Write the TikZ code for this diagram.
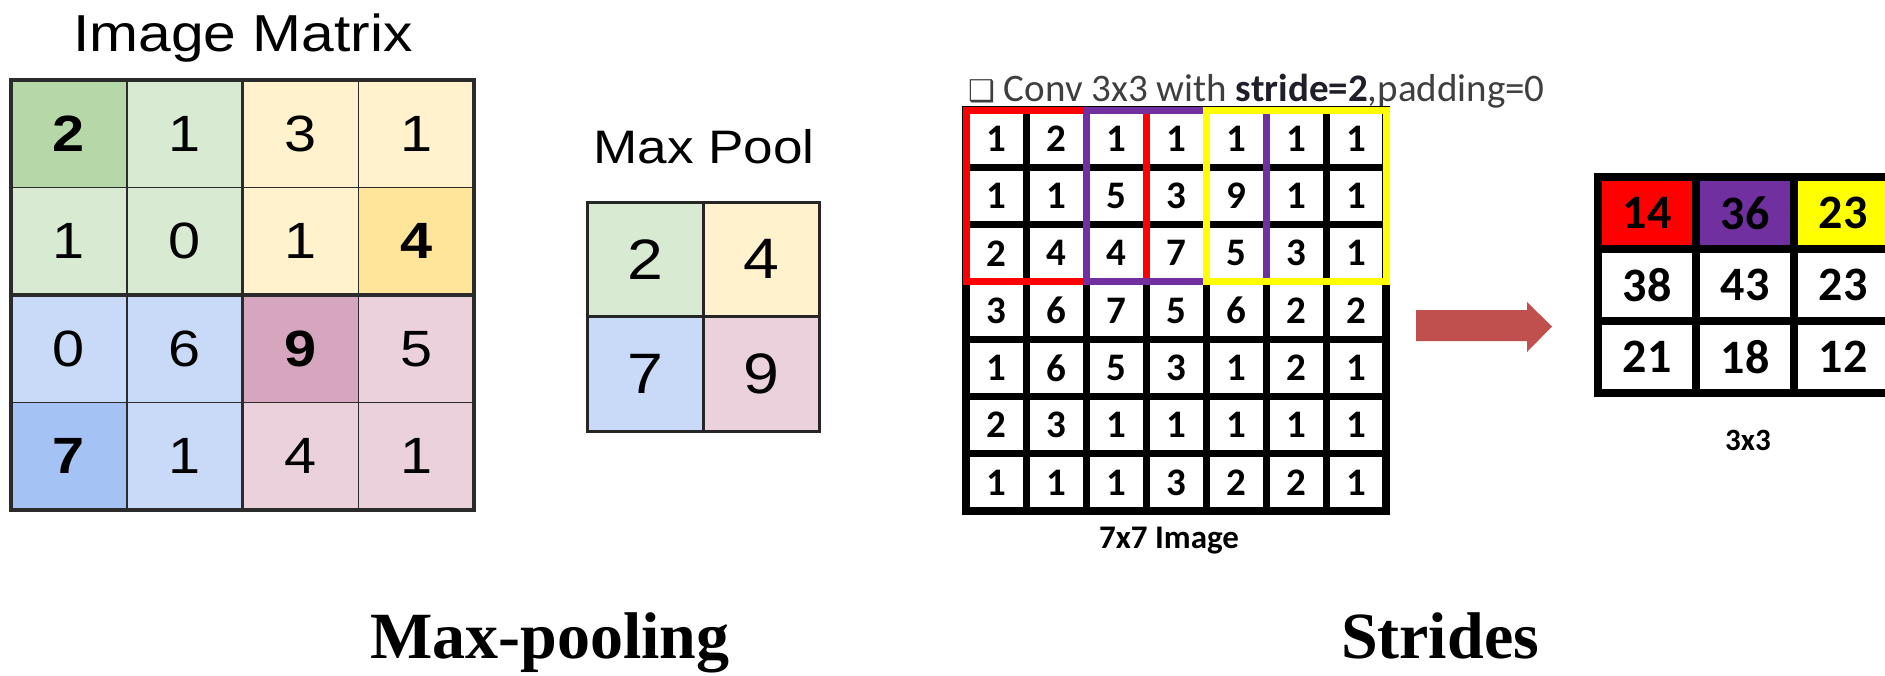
\documentclass[tikz,border=0pt]{standalone}
\usepackage{fontspec}
\newfontfamily\slidefont[FakeStretch=1.13]{Liberation Sans}
\newfontfamily\calfont{Carlito}
\newfontfamily\symfont{DejaVu Sans}
\newfontfamily\titlefont{Liberation Serif}

% pooling palette
\definecolor{gLt}{HTML}{D9EAD3}
\definecolor{gDk}{HTML}{B6D7A8}
\definecolor{yLt}{HTML}{FFF2CC}
\definecolor{yDk}{HTML}{FFE599}
\definecolor{bLt}{HTML}{C9DAF8}
\definecolor{bDk}{HTML}{A4C2F4}
\definecolor{pLt}{HTML}{EAD1DC}
\definecolor{pDk}{HTML}{D5A6BD}
\definecolor{gridgray}{HTML}{2B2B2B}
% stride palette
\definecolor{arrowred}{HTML}{C0504D}
\definecolor{kred}{HTML}{FF0000}
\definecolor{kpurple}{HTML}{7030A0}
\definecolor{kyellow}{HTML}{FFFF00}
\definecolor{captiongray}{HTML}{3F3F3F}
\definecolor{captiondark}{HTML}{1F1F2A}

\begin{document}
\begin{tikzpicture}[x=1pt,y=-1pt,
  lcell/.style={draw=gridgray, line width=1.5pt, minimum width=115.75pt,
    minimum height=107.5pt, inner sep=0pt, outer sep=0pt},
  pcell/.style={draw=black!85, line width=3pt, minimum width=116pt,
    minimum height=114.5pt, inner sep=0pt, outer sep=0pt,
    font=\slidefont\fontsize{57}{57}\selectfont},
  digitn/.style={font=\slidefont\fontsize{51}{51}\selectfont},
  digitb/.style={font=\slidefont\bfseries\fontsize{51}{51}\selectfont},
  thickgrid/.style={draw=gridgray, line width=3.5pt},
  heading/.style={font=\slidefont\fontsize{52}{52}\selectfont, anchor=base},
  scell/.style={draw=black, line width=7pt, minimum width=60pt,
    minimum height=57.3pt, inner sep=0pt, outer sep=0pt,
    font=\calfont\bfseries\fontsize{39}{39}\selectfont},
  ocell/.style={draw=black, line width=8pt, minimum width=98pt,
    minimum height=72pt, inner sep=0pt, outer sep=0pt,
    font=\calfont\bfseries\fontsize{48}{48}\selectfont},
  window/.style={line width=7pt},
  smallcap/.style={font=\calfont\bfseries\fontsize{31}{31}\selectfont, anchor=base},
  bigtitle/.style={font=\titlefont\bfseries\fontsize{66}{66}\selectfont, anchor=base}]

\useasboundingbox[fill=white] (0,0) rectangle (1885,675);

% ---------- max pooling: 4x4 input ----------
\node[heading] (imgtitle) at (243,51) {Image Matrix};
\foreach \v/\f/\w [count=\i from 0] in {
    2/gDk/b,1/gLt/n,3/yLt/n,1/yLt/n,
    1/gLt/n,0/gLt/n,1/yLt/n,4/yDk/b,
    0/bLt/n,6/bLt/n,9/pDk/b,5/pLt/n,
    7/bDk/b,1/bLt/n,4/pLt/n,1/pLt/n}{
  \pgfmathtruncatemacro\r{(\i+0.5)/4}
  \pgfmathtruncatemacro\c{mod(\i,4)}
  \node[lcell, fill=\f, digit\w] (L\r\c)
    at ({11+115.75*(\c+0.5)},{80+107.5*(\r+0.5)}) {\v};
}
\draw[thickgrid] (L00.north west) rectangle (L33.south east);
\draw[thickgrid] (L01.north east) -- (L31.south east);
\draw[thickgrid] (L10.south west) -- (L13.south east);

% ---------- max pooling: 2x2 output ----------
\node[heading, font=\slidefont\fontsize{47}{47}\selectfont] (pooltitle) at (704,163) {Max Pool};
\node[pcell, fill=gLt] (P00) at (645,259.25) {2};
\node[pcell, fill=yLt] (P01) at (761,259.25) {4};
\node[pcell, fill=bLt] (P10) at (645,373.75) {7};
\node[pcell, fill=pLt] (P11) at (761,373.75) {9};

% ---------- strides: 7x7 input ----------
\node[anchor=base west, inner sep=0pt, text=captiongray,
      font=\calfont\fontsize{39}{39}\selectfont] (conv) at (968,101)
  {{\symfont\bfseries\fontsize{30}{30}\selectfont ❑} Conv 3x3 with
   \textcolor{captiondark}{\bfseries stride=2},padding=0};
\foreach \v [count=\i from 0] in {
    1,2,1,1,1,1,1,
    1,1,5,3,9,1,1,
    2,4,4,7,5,3,1,
    3,6,7,5,6,2,2,
    1,6,5,3,1,2,1,
    2,3,1,1,1,1,1,
    1,1,1,3,2,2,1}{
  \pgfmathtruncatemacro\r{(\i+0.5)/7}
  \pgfmathtruncatemacro\c{mod(\i,7)}
  \node[scell] (S\r\c) at ({966+60*(\c+0.5)},{110+57.3*(\r+0.5)}) {\v};
}
\draw[draw=black, line width=8pt] (S00.north west) rectangle (S66.south east);
% the three 3x3 windows visited with stride 2
\draw[window, kred]    (S00.north west) rectangle (S22.south east);
\draw[window, kpurple] (S02.north west) rectangle (S24.south east);
\draw[window, kyellow] (S04.north west) rectangle (S26.south east);
\node[smallcap, font=\calfont\bfseries\fontsize{33}{33}\selectfont] (inlabel) at (1169,548) {7x7 Image};

% arrow towards the result
\fill[arrowred] (1416,310) -- (1527,310) -- (1527,302) -- (1552,326.5)
  -- (1527,352) -- (1527,341) -- (1416,341) -- cycle;

% ---------- strides: 3x3 result ----------
\begin{scope}
  \clip (0,0) rectangle (1885,675);
  \foreach \v/\f [count=\i from 0] in {
      14/kred,36/kpurple,23/kyellow,
      38/white,43/white,23/white,
      21/white,18/white,12/white}{
    \pgfmathtruncatemacro\r{(\i+0.5)/3}
    \pgfmathtruncatemacro\c{mod(\i,3)}
    \node[ocell, fill=\f] (O\r\c) at ({1598+98*(\c+0.5)},{177+72*(\r+0.5)}) {\v};
  }
\end{scope}
\node[smallcap] (outlabel) at (1748,450) {3x3};

% ---------- captions ----------
\node[bigtitle] (mpcap) at (550,658) {Max-pooling};
\node[bigtitle] (stcap) at (1440,658) {Strides};
\end{tikzpicture}
\end{document}
